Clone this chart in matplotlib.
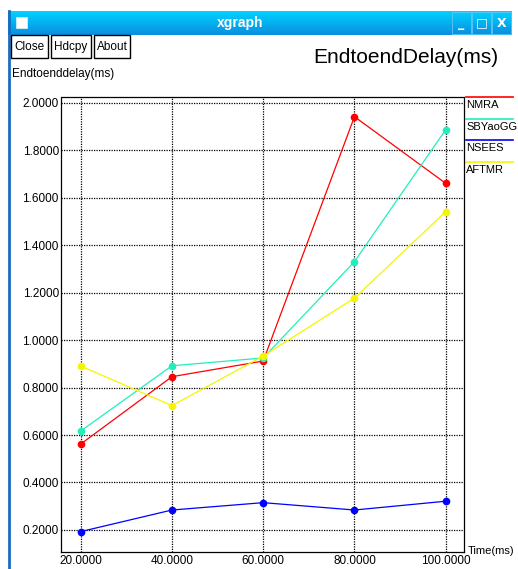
"""
xgraph 风格的端到端时延图
运行: python plot.py
输出: out.png
"""

import matplotlib
matplotlib.use('Agg')
import matplotlib.pyplot as plt
from matplotlib.colors import LinearSegmentedColormap
from matplotlib.patches import Rectangle
import numpy as np

plt.rcParams['font.family'] = ['Liberation Sans', 'DejaVu Sans']

# 数据
times = [20, 40, 60, 80, 100]
series_names = ['NMRA', 'SBYaoGG', 'NSEES', 'AFTMR']
nmra = [0.562, 0.846, 0.912, 1.942, 1.661]
sbyaogg = [0.617, 0.892, 0.925, 1.331, 1.887]
nsees = [0.193, 0.284, 0.315, 0.284, 0.321]
aftmr = [0.891, 0.724, 0.933, 1.177, 1.542]
y_ticks = [0.2, 0.4, 0.6, 0.8, 1.0, 1.2, 1.4, 1.6, 1.8, 2.0]

COLORS = ['#ff0000', '#22eebb', '#0000ff', '#f5f500']

W, H = 518, 569
fig = plt.figure(figsize=(W / 100, H / 100), dpi=100)
fig.patch.set_facecolor('white')

# 窗口外框 (像素坐标)
bg = fig.add_axes([0, 0, 1, 1])
bg.set_xlim(0, W)
bg.set_ylim(H, 0)
bg.axis('off')

grad = np.linspace(0, 1, 50).reshape(-1, 1)
cmap = LinearSegmentedColormap.from_list('bar', ['#00d2ff', '#0a8ee0'])
bg.imshow(grad, cmap=cmap, extent=[8, 512, 35, 11], aspect='auto', zorder=1)
bg.plot([8.5, 8.5], [11, H], color='#1a6cc0', lw=2, zorder=2)
bg.add_patch(Rectangle((16, 17), 11, 11, facecolor='white', edgecolor='#e0f4ff', lw=0.5, zorder=3))
bg.text(240, 23, 'xgraph', color='white', fontsize=10, fontweight='bold',
        ha='center', va='center', zorder=3)
for i, glyph in enumerate(['_', '□', 'X']):
    x0 = 452 + i * 20
    bg.add_patch(Rectangle((x0, 12), 19, 22, facecolor='none', edgecolor='#5cc8f5', lw=0.6, zorder=3))
    bg.text(x0 + 9.5, 23, glyph, color='white', fontsize=9, fontweight='bold',
            ha='center', va='center', zorder=3, family=['DejaVu Sans'])

# 按钮
for label, x0, x1 in [('Close', 11, 48), ('Hdcpy', 51, 91), ('About', 94, 130)]:
    bg.add_patch(Rectangle((x0, 35), x1 - x0, 23, facecolor='white', edgecolor='black', lw=1, zorder=3))
    bg.text((x0 + x1) / 2, 47, label, fontsize=8.5, ha='center', va='center', zorder=4)

bg.text(313, 57, 'EndtoendDelay(ms)', fontsize=15, ha='left', va='center')
bg.text(12, 74, 'Endtoenddelay(ms)', fontsize=8.5, ha='left', va='center')
bg.text(468, 551, 'Time(ms)', fontsize=8, ha='left', va='center')

# 图例 (线在上, 文字在下)
for i, (name, c) in enumerate(zip(series_names, COLORS)):
    yl = 97 + i * 21.5
    bg.plot([466, 513], [yl, yl], color=c, lw=1.2)
    bg.text(466, yl + 8, name, fontsize=8, ha='left', va='center')

# 绘图区
ax = fig.add_axes([61 / W, (H - 552) / H, (464 - 61) / W, (552 - 97) / H])
ax.set_facecolor('white')
ax.set_xlim(15.68, 104.01)
ax.set_ylim(0.107, 2.025)

dot = (0, (1, 1))
for s in ax.spines.values():
    s.set_linestyle(dot)
    s.set_linewidth(0.9)
    s.set_color('black')

ax.set_xticks(times)
ax.set_xticklabels([f'{t:.4f}' for t in times], fontsize=8.5)
ax.set_yticks(y_ticks)
ax.set_yticklabels([f'{v:.4f}' for v in y_ticks], fontsize=8.5)
ax.tick_params(length=0, pad=1.5)
ax.tick_params(axis='x', pad=2.5)
ax.grid(True, color='black', linestyle=dot, linewidth=0.9)
ax.set_axisbelow(True)

for vals, c in zip([nmra, sbyaogg, nsees, aftmr], COLORS):
    ax.plot(times, vals, color=c, lw=0.9, marker='o', markersize=4.5,
            markerfacecolor=c, markeredgecolor=c, zorder=3)

plt.savefig('out.png', dpi=100, facecolor='white')
plt.close()
